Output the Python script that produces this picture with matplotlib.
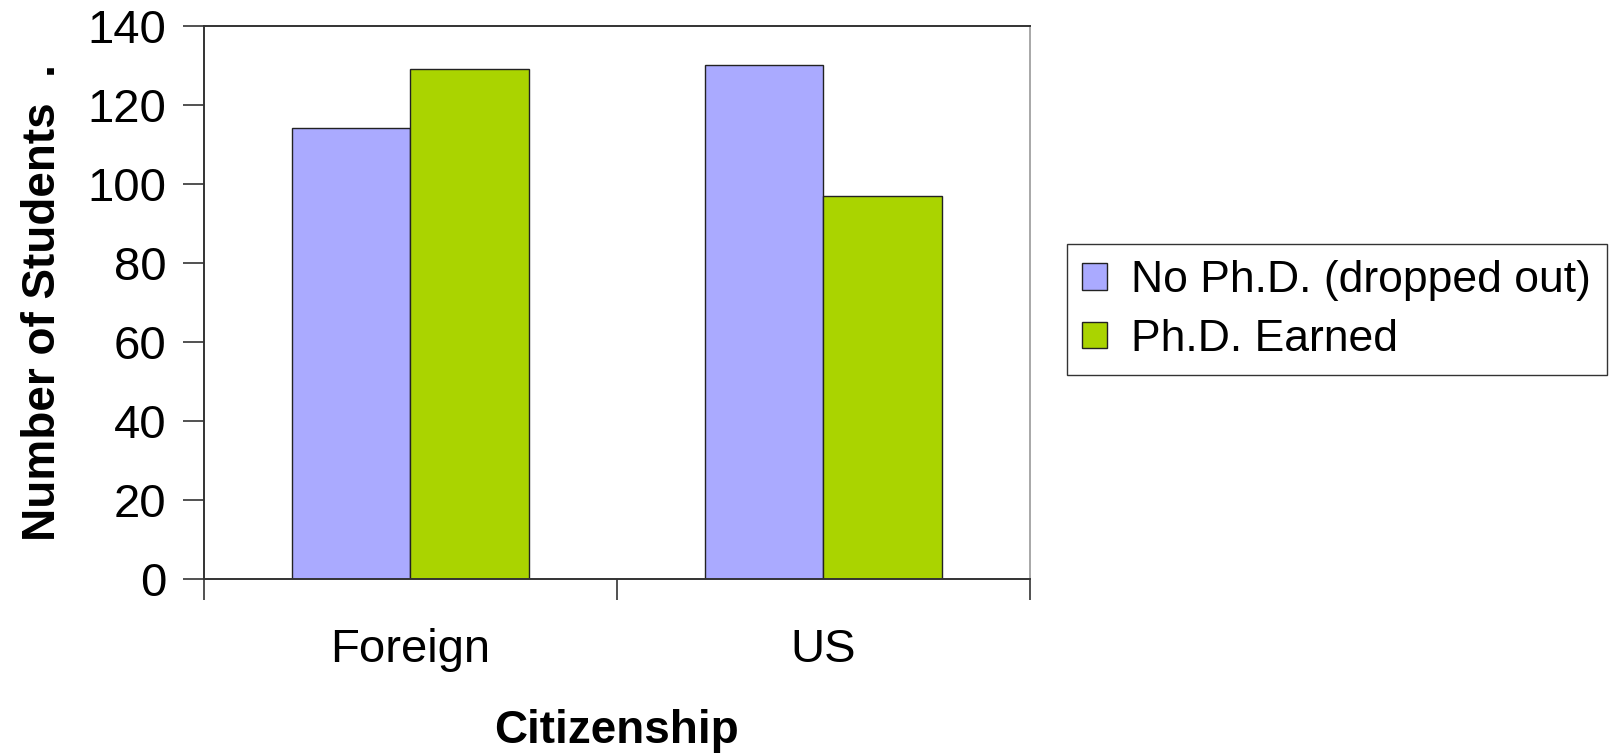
import numpy as np
import matplotlib
matplotlib.use("Agg")
import matplotlib.pyplot as plt

plt.rcParams['font.family'] = ['Liberation Sans', 'DejaVu Sans']

categories = ["Foreign", "US"]
series_names = ["No Ph.D. (dropped out)", "Ph.D. Earned"]
no_phd = [114, 130]
phd_earned = [129, 97]
y_ticks = [0, 20, 40, 60, 80, 100, 120, 140]

colors = ["#AAAAFF", "#AAD400"]

fig = plt.figure(figsize=(16.19, 7.54), dpi=100)
ax = fig.add_axes([0.126, 0.232, 0.510, 0.734])

x = np.arange(len(categories))
width = 0.2875
for i, (vals, name) in enumerate(zip([no_phd, phd_earned], series_names)):
    offset = (i - 0.5) * width
    ax.bar(x + offset, vals, width, color=colors[i], edgecolor="#222222",
           linewidth=1.0, label=name, zorder=2)

ax.set_xlim(-0.5, len(categories) - 0.5)
ax.set_ylim(0, 140)
ax.set_yticks(y_ticks)
ax.set_yticklabels([str(v) for v in y_ticks], fontsize=34)
ax.tick_params(axis='y', direction='out', length=15, width=1.2,
               color="#333333", pad=12)

# labels sit at category centres, tick marks at the category boundaries
ax.set_xticks(x)
ax.set_xticklabels(categories, fontsize=34)
ax.tick_params(axis='x', which='major', length=0, pad=35)
ax.set_xticks(np.arange(len(categories) + 1) - 0.5, minor=True)
ax.tick_params(axis='x', which='minor', direction='out', length=15,
               width=1.2, color="#333333")

for side in ["left", "bottom", "top"]:
    ax.spines[side].set_color("#333333")
    ax.spines[side].set_linewidth(1.4)
ax.spines["right"].set_color("#999999")
ax.spines["right"].set_linewidth(1.2)

ax.set_xlabel("Citizenship", fontsize=33, fontweight='bold', labelpad=27)
ax.set_ylabel("Number of Students  .", fontsize=33, fontweight='bold',
              labelpad=16)

leg = fig.legend(loc="center left", bbox_to_anchor=(0.659, 0.589),
                 fontsize=32, frameon=True, fancybox=False, shadow=False,
                 handlelength=0.55, handleheight=0.55, handletextpad=0.55,
                 labelspacing=0.4, borderpad=0.35, borderaxespad=0)
leg.get_frame().set_edgecolor("#000000")
leg.get_frame().set_linewidth(1.0)

fig.savefig("out.png", dpi=100)
